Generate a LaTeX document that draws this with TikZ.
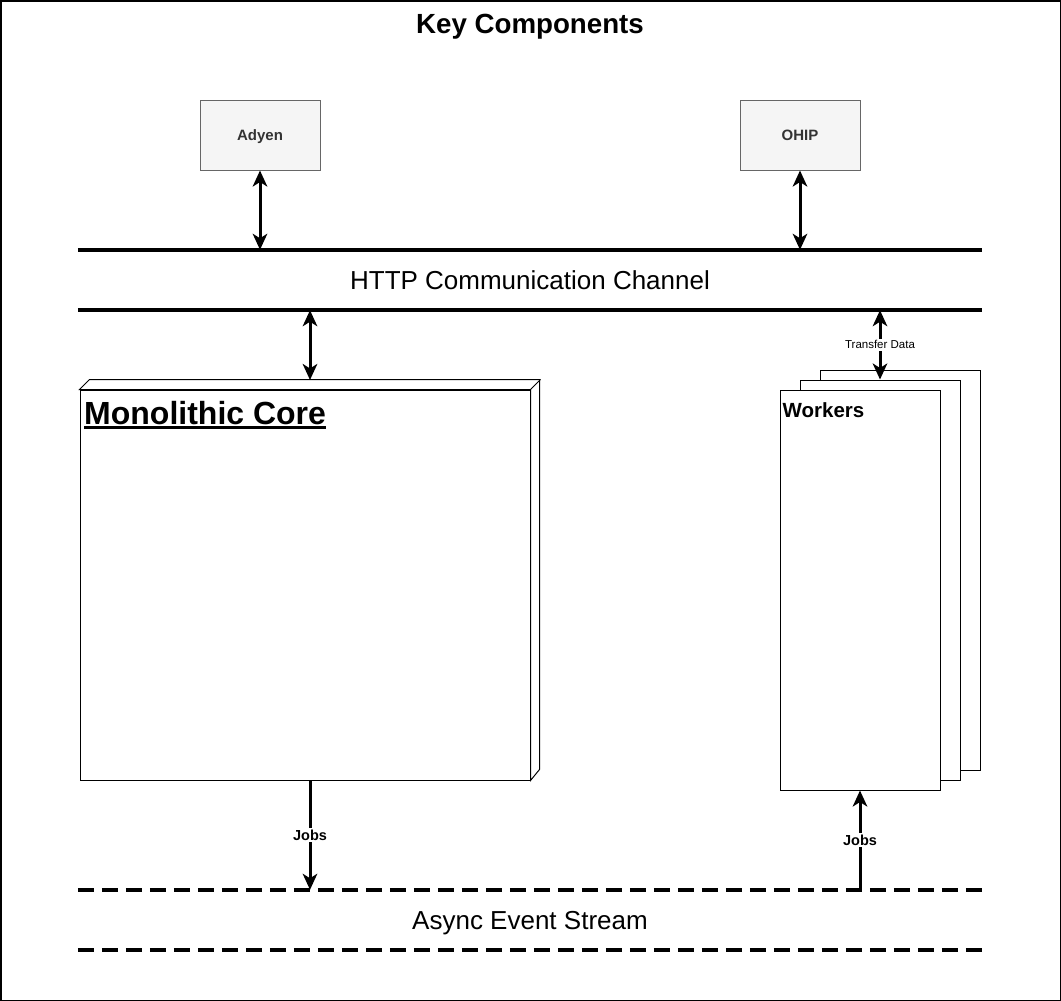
\documentclass[tikz,border=0pt]{standalone}
\usepackage{fontspec}
\setmainfont{Liberation Sans}
\usetikzlibrary{arrows.meta}
\definecolor{extfill}{HTML}{F5F5F5}
\definecolor{extdraw}{HTML}{666666}
\definecolor{exttext}{HTML}{333333}
\newcommand\fs[1]{\fontsize{#1}{#1}\selectfont}
\newcommand\myul[1]{\setbox0\hbox{#1}\rlap{\rule[-4.5pt]{\wd0}{2.2pt}}\box0}
\tikzset{
  extbox/.style={draw=extdraw, fill=extfill, text=exttext, line width=1pt,
    minimum width=120pt, minimum height=70pt, inner sep=0pt, font=\bfseries\fs{15},
    text height=10.7pt, text depth=0pt},
  chan/.style={minimum width=904pt, minimum height=60pt, inner sep=0pt, font=\fs{26},
    text height=18.6pt, text depth=0pt},
  bus/.style={line width=4pt},
  dbus/.style={line width=4pt, dash pattern=on 16pt off 8pt},
  tip/.tip={Stealth[length=16pt,width=14.5pt,inset=4.5pt]},
  conn/.style={line width=3pt, -tip},
  dconn/.style={line width=3pt, tip-tip},
  boxline/.style={draw=black, line width=1pt, fill=white},
  lbl/.style={fill=white, inner sep=1.5pt},
}
\begin{document}
\begin{tikzpicture}[x=1pt,y=-1pt]
\useasboundingbox (0,0) rectangle (1061,1001);
\draw[line width=1.5pt] (0.75,0.75) rectangle (1060.25,1000.25);

\node[font=\bfseries\fs{27.7}, text height=19.8pt, text depth=0pt, inner sep=0pt] (title) at (530,24) {Key Components};

\node[extbox] (adyen) at (260,135) {Adyen};
\node[extbox] (ohip) at (800,135) {OHIP};

\node[chan] (http) at (530,280) {HTTP Communication Channel};
\draw[bus] (http.north west) -- (http.north east);
\draw[bus] (http.south west) -- (http.south east);

\node[chan] (async) at (530,920) {Async Event Stream};
\draw[dbus] (async.north west) -- (async.north east);
\draw[dbus] (async.south west) -- (async.south east);

% Monolithic core (cube)
\node[boxline, minimum width=450pt, minimum height=390pt, inner sep=0pt] (core) at (305,585) {};
\draw[line width=1pt, fill=white] (core.north west) -- ++(10,-10) -- ++(450,0) -- ++(0,390) -- (core.south east) -- (core.north east) -- cycle;
\draw[line width=1pt] (core.north east) -- ++(10,-10);
\node[anchor=base west, inner sep=0pt, font=\bfseries\fs{32}] (coretitle) at (84,424) {\myul{Monolithic Core}};
\coordinate (coretop) at (310,380);
\coordinate (corebot) at (310,780);

% Workers stack
\node[boxline, minimum width=160pt, minimum height=400pt, inner sep=0pt] (wback) at (900,570) {};
\node[boxline, minimum width=160pt, minimum height=400pt, inner sep=0pt] (wmid) at (880,580) {};
\node[boxline, minimum width=160pt, minimum height=400pt, inner sep=0pt] (wfront) at (860,590) {};
\node[anchor=base west, inner sep=0pt, font=\bfseries\fs{20.5}] (wtitle) at (782.5,417) {Workers};

% connectors
\draw[dconn] (adyen.south) -- (adyen.south |- http.north);
\draw[dconn] (ohip.south) -- (ohip.south |- http.north);
\draw[dconn] (coretop |- http.south) -- (coretop);
\draw[dconn] (wmid.north |- http.south) -- node[lbl, font=\fs{11.5}] (tdlbl) {Transfer Data} (wmid.north);
\draw[conn] (corebot) -- node[lbl, font=\bfseries\fs{14.5}] (jobs1) {Jobs} (corebot |- async.north);
\draw[conn] (wfront.south |- async.north) -- node[lbl, font=\bfseries\fs{14.5}, pos=0.5] (jobs2) {Jobs} (wfront.south);
\end{tikzpicture}
\end{document}
